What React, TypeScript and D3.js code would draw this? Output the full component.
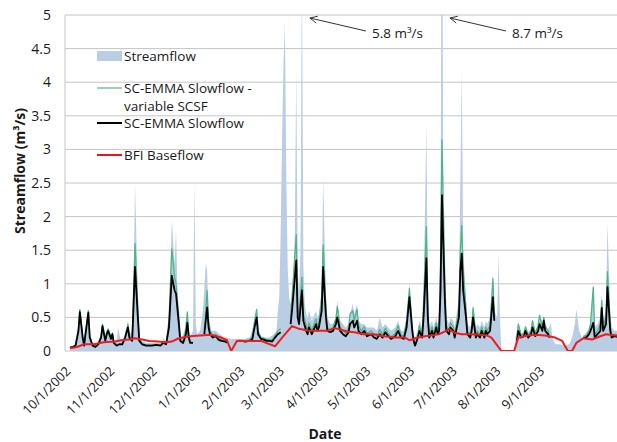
import React, { useMemo } from "react";
import * as d3 from "d3";

const WIDTH = 617;
const HEIGHT = 442;
const FONT = "'Open Sans', 'Liberation Sans', sans-serif";

// All series are keyed by days since the start of the water year.
const START = new Date(2002, 9, 1);
const AXIS_START = new Date(2002, 8, 28, 12);
const AXIS_END = new Date(2003, 9, 28);

// Daily streamflow (m3/s)
const streamflow: [number, number][] = [
  [1, 0.06], [4, 0.08], [7, 0.35], [8, 0.62], [10, 0.25], [11, 0.12], [12, 0.3], [14, 0.6], [15, 0.25],
  [17, 0.12], [20, 0.1], [23, 0.25], [24, 0.4], [26, 0.2], [27, 0.3], [28, 0.33], [30, 0.22], [31, 0.28],
  [32, 0.15], [34, 0.15], [35, 0.35], [37, 0.15], [39, 0.15], [40, 0.25], [42, 0.45], [43, 0.25], [45, 0.3],
  [46, 0.9], [47, 2.5], [49, 0.8], [50, 0.2], [52, 0.15], [55, 0.12], [59, 0.12], [62, 0.12], [66, 0.12],
  [67, 0.2], [69, 0.12], [71, 0.5], [73, 1.95], [75, 1.3], [76, 1.8], [77, 0.9], [78, 0.5], [79, 0.25],
  [80, 0.2], [82, 0.3], [84, 0.6], [85, 0.3], [86, 0.2], [88, 0.3], [89, 2.5], [90, 0.4], [91, 0.25],
  [93, 0.3], [95, 0.6], [97, 1.3], [98, 1.2], [99, 0.5], [101, 0.3], [104, 0.3], [107, 0.25], [110, 0.2],
  [112, 0.2], [115, 0.18], [118, 0.18], [121, 0.18], [124, 0.18], [128, 0.2], [131, 0.38], [133, 0.65],
  [134, 0.3], [136, 0.22], [139, 0.2], [142, 0.2], [145, 0.25], [147, 0.3], [148, 0.6], [149, 0.8],
  [150, 1.8], [151, 3.2], [152, 4.3], [153, 4.88], [154, 2.5], [155, 1.2], [156, 0.8], [157, 0.7],
  [158, 0.8], [159, 1.0], [160, 1.8], [161, 4.2], [162, 1.2], [163, 0.9], [164, 1.5], [165, 5.8],
  [166, 1.3], [167, 0.7], [168, 0.55], [169, 0.5], [170, 0.6], [172, 0.45], [173, 0.5], [175, 0.6],
  [176, 0.5], [177, 0.55], [179, 0.9], [180, 2.57], [182, 0.8], [183, 0.5], [185, 0.4], [187, 0.4],
  [189, 0.5], [190, 0.75], [192, 0.45], [194, 0.4], [196, 0.35], [198, 0.4], [199, 0.55], [201, 0.7],
  [202, 0.55], [204, 0.7], [205, 0.45], [207, 0.4], [209, 0.4], [211, 0.35], [214, 0.35], [216, 0.35],
  [218, 0.3], [220, 0.5], [222, 0.35], [224, 0.4], [226, 0.35], [228, 0.3], [231, 0.35], [233, 0.45],
  [235, 0.3], [237, 0.3], [239, 0.5], [241, 1.0], [243, 0.45], [244, 0.25], [245, 0.2], [247, 0.3],
  [248, 0.45], [250, 0.35], [251, 0.8], [253, 3.39], [254, 0.8], [255, 0.35], [257, 0.45], [258, 0.35],
  [260, 0.5], [261, 0.4], [262, 0.5], [263, 1.5], [264, 8.7], [265, 1.5], [267, 0.5], [269, 0.4],
  [270, 0.5], [272, 0.45], [273, 0.35], [274, 0.5], [276, 0.8], [277, 2.5], [278, 4.18], [279, 1.5],
  [281, 0.8], [282, 0.4], [284, 0.35], [285, 0.45], [286, 0.7], [288, 0.35], [289, 0.4], [291, 0.35],
  [292, 0.45], [294, 0.35], [295, 0.45], [296, 0.4], [298, 0.5], [300, 1.1], [301, 0.6], [303, 0.5],
  [304, 1.45], [305, 0.5], [306, 0], [315, 0], [316, 0.2], [318, 0.42], [320, 0.25], [322, 0.3],
  [323, 0.38], [325, 0.28], [327, 0.32], [328, 0.48], [330, 0.3], [332, 0.4], [333, 0.56], [335, 0.4],
  [336, 0.52], [337, 0.4], [339, 0.32], [341, 0.42], [342, 0.2], [344, 0.1], [347, 0.1], [351, 0.08],
  [354, 0.1], [356, 0.2], [358, 0.4], [359, 0.62], [361, 0.3], [363, 0.2], [365, 0.25], [367, 0.3],
  [369, 0.42], [371, 1.0], [372, 0.35], [374, 0.4], [376, 0.5], [377, 0.85], [378, 0.45], [380, 0.6],
  [381, 1.9], [383, 0.6], [384, 0.35], [386, 0.3], [390, 0.3],
];

// SC-EMMA slowflow (constant and variable SCSF); null marks missing records
const slowDays: number[] = [
  1, 3, 5, 7, 8, 10, 11, 12, 14, 15, 17, 19, 21, 23, 24, 26, 27, 28, 30, 31, 32, 34, 36, 38, 40, 42, 43, 45,
  46, 47, 49, 50, 52, 55, 59, 62, 65, 67, 69, 71, 73, 75, 76, 78, 79, 81, 83, 84, 85, 86, 88, 92,
  96, 98, 99, 100, 102, 104, 106, 108, 111, 112, 116,
  120, 122, 125, 128, 130, 131, 133, 134, 136, 138, 140, 142, 144, 146, 148, 150, 153,
  157, 158, 161, 162, 163, 165, 166, 168, 169, 170, 172, 173, 175, 176, 177, 179, 180, 182, 183, 185, 187,
  189, 190, 192, 194, 196, 198, 199, 201, 202, 204, 205, 207, 209, 211, 214, 216, 218, 220, 222, 224, 226,
  228, 231, 233, 235, 237, 239, 241, 243, 244, 245, 247, 248, 250, 251, 253, 254, 255, 257, 258, 260, 261,
  262, 263, 264, 266, 267, 269, 270, 272, 273, 274, 276, 277, 278, 279, 281, 282, 284, 285, 286, 288, 289,
  291, 292, 294, 295, 296, 298, 300, 301, 310,
  317, 318, 320, 322, 323, 325, 327, 328, 330, 332, 333, 335, 336, 337, 339, 340, 352,
  364, 366, 368, 369, 371, 372, 374, 376, 377, 378, 380, 381, 383, 384, 386, 390,
];

const slowflow: (number | null)[] = [
  0.05, 0.06, 0.08, 0.3, 0.58, 0.2, 0.08, 0.25, 0.57, 0.2, 0.08, 0.06, 0.1, 0.2, 0.37, 0.15, 0.25, 0.3, 0.18, 0.25, 0.12, 0.08, 0.1, 0.1, 0.2, 0.35, 0.2, 0.15,
  0.7, 1.25, 0.5, 0.15, 0.1, 0.08, 0.08, 0.09, 0.08, 0.12, 0.1, 0.35, 1.12, 0.9, 0.85, 0.4, 0.15, 0.12, 0.25, 0.42, 0.2, 0.12, 0.12, null,
  0.25, 0.65, 0.35, 0.25, 0.2, 0.22, 0.17, 0.15, 0.14, 0.12, null,
  0.15, 0.15, 0.14, 0.15, 0.18, 0.3, 0.5, 0.25, 0.18, 0.17, 0.15, 0.15, 0.14, 0.2, 0.25, 0.28, null,
  0.4, 0.6, 1.35, 0.5, 0.4, 0.9, 0.45, 0.3, 0.25, 0.35, 0.25, 0.3, 0.4, 0.3, 0.35, 0.6, 1.25, 0.5, 0.3, 0.28, 0.3,
  0.4, 0.5, 0.3, 0.25, 0.22, 0.28, 0.4, 0.45, 0.35, 0.45, 0.3, 0.25, 0.3, 0.22, 0.25, 0.2, 0.18, 0.25, 0.2, 0.28, 0.22,
  0.18, 0.22, 0.3, 0.2, 0.18, 0.35, 0.8, 0.3, 0.15, 0.08, 0.2, 0.3, 0.2, 0.5, 1.38, 0.5, 0.2, 0.3, 0.2, 0.35, 0.25,
  0.3, 0.9, 2.32, 0.8, 0.3, 0.25, 0.35, 0.3, 0.2, 0.3, 0.5, 1.2, 1.45, 0.9, 0.5, 0.25, 0.2, 0.3, 0.5, 0.2, 0.25,
  0.2, 0.3, 0.2, 0.3, 0.25, 0.3, 0.8, 0.45, null,
  0.15, 0.3, 0.2, 0.22, 0.3, 0.2, 0.25, 0.35, 0.22, 0.3, 0.4, 0.3, 0.45, 0.3, 0.25, 0.2, null,
  0.2, 0.2, 0.25, 0.3, 0.42, 0.2, 0.25, 0.3, 0.64, 0.3, 0.4, 0.95, 0.3, 0.2, 0.22, 0.2,
];

const slowflowVariable: (number | null)[] = [
  0.05, 0.06, 0.09, 0.33, 0.62, 0.22, 0.09, 0.28, 0.6, 0.22, 0.09, 0.07, 0.11, 0.22, 0.4, 0.17, 0.28, 0.33, 0.2, 0.27, 0.13, 0.09, 0.11, 0.11, 0.22, 0.4, 0.22, 0.17,
  0.9, 1.6, 0.65, 0.18, 0.11, 0.09, 0.09, 0.1, 0.09, 0.14, 0.11, 0.45, 1.52, 1.1, 1.0, 0.5, 0.18, 0.14, 0.32, 0.58, 0.25, 0.14, 0.13, null,
  0.3, 0.9, 0.45, 0.3, 0.23, 0.25, 0.19, 0.17, 0.15, 0.13, null,
  0.16, 0.16, 0.15, 0.17, 0.21, 0.38, 0.62, 0.3, 0.2, 0.19, 0.17, 0.17, 0.16, 0.23, 0.3, 0.33, null,
  0.5, 0.8, 1.73, 0.65, 0.5, 1.1, 0.55, 0.38, 0.3, 0.42, 0.3, 0.36, 0.48, 0.36, 0.42, 0.8, 1.58, 0.62, 0.35, 0.32, 0.35,
  0.48, 0.66, 0.36, 0.3, 0.26, 0.34, 0.55, 0.6, 0.45, 0.62, 0.38, 0.3, 0.36, 0.26, 0.3, 0.24, 0.21, 0.32, 0.24, 0.34, 0.26,
  0.21, 0.26, 0.38, 0.24, 0.21, 0.45, 0.93, 0.36, 0.17, 0.09, 0.23, 0.38, 0.24, 0.7, 1.85, 0.65, 0.24, 0.36, 0.24, 0.42, 0.3,
  0.38, 1.3, 3.14, 1.1, 0.38, 0.3, 0.42, 0.36, 0.24, 0.36, 0.65, 1.5, 1.87, 1.2, 0.62, 0.3, 0.24, 0.36, 0.64, 0.24, 0.3,
  0.24, 0.36, 0.24, 0.36, 0.3, 0.38, 1.08, 0.55, null,
  0.17, 0.4, 0.24, 0.26, 0.36, 0.24, 0.3, 0.45, 0.26, 0.38, 0.53, 0.36, 0.5, 0.36, 0.3, 0.24, null,
  0.22, 0.23, 0.3, 0.4, 0.95, 0.25, 0.3, 0.4, 0.75, 0.36, 0.5, 1.18, 0.36, 0.24, 0.25, 0.23,
];

// BFI baseflow separation (m3/s)
const bfiBaseflow: [number, number][] = [
  [1, 0.04], [6, 0.06], [11, 0.1], [18, 0.1], [25, 0.13], [33, 0.14], [37, 0.16], [43, 0.17], [47, 0.19],
  [52, 0.17], [57, 0.15], [63, 0.14], [69, 0.13], [73, 0.14], [78, 0.19], [86, 0.22], [93, 0.23],
  [101, 0.24], [108, 0.2], [112, 0.16], [115, 0], [119, 0.15], [128, 0.15], [136, 0.15], [146, 0.07],
  [151, 0.2], [158, 0.37], [163, 0.33], [170, 0.3], [177, 0.3], [183, 0.3], [188, 0.34], [192, 0.32],
  [197, 0.29], [202, 0.28], [209, 0.25], [216, 0.25], [223, 0.22], [231, 0.2], [238, 0.2], [241, 0.16],
  [247, 0.2], [252, 0.22], [259, 0.24], [262, 0.25], [267, 0.3], [269, 0.33], [273, 0.27], [278, 0.25],
  [284, 0.25], [291, 0.24], [296, 0.23], [299, 0.2], [306, 0], [315, 0], [318, 0.2], [325, 0.23],
  [330, 0.24], [337, 0.23], [344, 0.2], [349, 0.15], [353, 0], [356, 0], [359, 0.12], [364, 0.19],
  [370, 0.17], [376, 0.22], [380, 0.25], [390, 0.22],
];

const yTicks = [0, 0.5, 1, 1.5, 2, 2.5, 3, 3.5, 4, 4.5, 5];
const Y_MAX = 5;

const legendItems = [
  { kind: "area", color: "#b9cde5", lines: ["Streamflow"] },
  { kind: "line", color: "#4fb589", width: 1.2, lines: ["SC-EMMA Slowflow -", "variable SCSF"] },
  { kind: "line", color: "#000000", width: 2, lines: ["SC-EMMA Slowflow"] },
  { kind: "line", color: "#e8161b", width: 2, lines: ["BFI Baseflow"] },
];

const COLORS = {
  flow: "#b9cde5",
  variable: "#4fb589",
  slow: "#000000",
  bfi: "#ee1c1c",
  grid: "#c4c4c4",
  text: "#1a1a1a",
};

const toDate = (day: number) => d3.timeDay.offset(START, day);
const fmt = d3.timeFormat("%-m/%-d/%Y");

export default function App() {
  const m = { left: 65, top: 15, bottom: 351, right: 623 };

  const x = useMemo(
    () => d3.scaleTime().domain([AXIS_START, AXIS_END]).range([m.left, m.right]),
    []
  );
  const y = useMemo(() => d3.scaleLinear().domain([0, Y_MAX]).range([m.bottom, m.top]), []);

  const flowArea = d3
    .area<[number, number]>()
    .x((d) => x(toDate(d[0])))
    .y0(y(0))
    .y1((d) => y(d[1]));

  const slowRows = slowDays.map((d, i) => ({ d, b: slowflow[i], g: slowflowVariable[i] }));
  const lineB = d3
    .line<{ d: number; b: number | null; g: number | null }>()
    .defined((r) => r.b != null)
    .x((r) => x(toDate(r.d)))
    .y((r) => y(r.b as number));
  const lineG = d3
    .line<{ d: number; b: number | null; g: number | null }>()
    .defined((r) => r.g != null)
    .x((r) => x(toDate(r.d)))
    .y((r) => y(r.g as number));
  const lineBfi = d3
    .line<[number, number]>()
    .x((d) => x(toDate(d[0])))
    .y((d) => y(d[1]));

  const months = d3.timeMonth.range(START, new Date(2003, 8, 2));

  // Off-scale peaks are annotated with their value
  const peaks = streamflow.filter((d) => d[1] > Y_MAX);

  return (
    <svg
      width={WIDTH}
      height={HEIGHT}
      style={{ position: "absolute", left: 0, top: 0, background: "#fff" }}
      fontFamily={FONT}
    >
      <defs>
        <clipPath id="plot-clip">
          <rect x={m.left} y={m.top} width={m.right - m.left} height={m.bottom - m.top} />
        </clipPath>
      </defs>

      {/* horizontal gridlines */}
      {yTicks.map((t) => (
        <line key={t} x1={m.left} x2={m.right} y1={y(t)} y2={y(t)} stroke={COLORS.grid} strokeWidth={1} />
      ))}
      <line x1={m.left} x2={m.left} y1={m.top} y2={m.bottom} stroke={COLORS.grid} strokeWidth={1} />

      <g clipPath="url(#plot-clip)">
        <path d={flowArea(streamflow) || ""} fill={COLORS.flow} stroke="none" />
        <path d={lineG(slowRows) || ""} fill="none" stroke={COLORS.variable} strokeWidth={1.3} strokeLinejoin="round" />
        <path d={lineB(slowRows) || ""} fill="none" stroke={COLORS.slow} strokeWidth={1.8} strokeLinejoin="round" />
        <path d={lineBfi(bfiBaseflow) || ""} fill="none" stroke={COLORS.bfi} strokeWidth={2} strokeLinejoin="round" />
      </g>

      {/* y axis labels */}
      {yTicks.map((t) => (
        <text key={t} x={51} y={y(t)} dy="0.36em" textAnchor="end" fontSize={14} fill={COLORS.text}>
          {t}
        </text>
      ))}
      <text
        transform={`translate(25, ${(m.top + m.bottom) / 2 - 12}) rotate(-90)`}
        textAnchor="middle"
        fontSize={14}
        fontWeight="bold"
        fill={COLORS.text}
      >
        Streamflow (m³/s)
      </text>

      {/* x axis labels */}
      {months.map((d) => (
        <text
          key={+d}
          transform={`translate(${x(d) + 3}, ${m.bottom + 21}) rotate(-45)`}
          textAnchor="end"
          fontSize={13}
          fill={COLORS.text}
        >
          {fmt(d)}
        </text>
      ))}
      <text x={325} y={439} textAnchor="middle" fontSize={14} fontWeight="bold" fill={COLORS.text}>
        Date
      </text>

      {/* legend */}
      {legendItems.map((item, i) => {
        const cy = [56, 88, 123, 155][i];
        return (
          <g key={i}>
            {item.kind === "area" ? (
              <rect x={97} y={cy - 5} width={25} height={10} fill={item.color} />
            ) : (
              <line x1={97} x2={122} y1={cy} y2={cy} stroke={item.color} strokeWidth={item.width} />
            )}
            {item.lines.map((s, j) => (
              <text key={j} x={124} y={cy + 18 * j} dy="0.35em" fontSize={13.5} fill={COLORS.text}>
                {s}
              </text>
            ))}
          </g>
        );
      })}

      {/* off-scale peak annotations */}
      {peaks.map(([day, v]) => {
        const tipX = x(toDate(day)) + 8;
        const tipY = y(Y_MAX) + 3;
        const endX = tipX + 56;
        const endY = tipY + 13;
        const ang = Math.atan2(endY - tipY, endX - tipX);
        const a1 = ang + 0.45;
        const a2 = ang - 0.45;
        const L = 8;
        return (
          <g key={day} stroke="#333" strokeWidth={1} fill="none">
            <line x1={tipX} y1={tipY} x2={endX} y2={endY} />
            <polyline
              points={`${tipX + L * Math.cos(a1)},${tipY + L * Math.sin(a1)} ${tipX},${tipY} ${tipX + L * Math.cos(a2)},${tipY + L * Math.sin(a2)}`}
            />
            <text x={endX + 6} y={endY + 7} stroke="none" fill={COLORS.text} fontSize={13.5}>
              {`${v.toFixed(1)} m³/s`}
            </text>
          </g>
        );
      })}
    </svg>
  );
}
